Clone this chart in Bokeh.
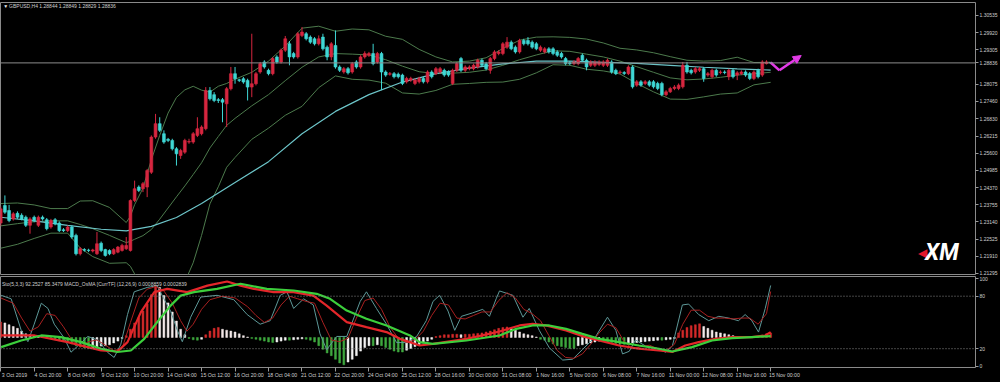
from bokeh.plotting import figure
from bokeh.layouts import column
from bokeh.models import (Range1d, FixedTicker, Label, Span, Arrow, NormalHead, LinearAxis,
                          ColumnDataSource, PrintfTickFormatter, GlobalInlineStyleSheet)
from bokeh.embed import file_html
from bokeh.resources import INLINE

# ---------------- data (GBPUSD H4, 3 Oct 2019 12:00 .. 15 Nov 2019 00:00) ----------------
open_ = [1.2310, 1.2373, 1.2355, 1.2325, 1.2345, 1.2338, 1.2331, 1.2302, 1.2331, 1.2302,
         1.2331, 1.2322, 1.2296, 1.2322, 1.2310, 1.2286, 1.2283, 1.2296, 1.2266, 1.2200,
         1.2215, 1.2213, 1.2210, 1.2200, 1.2238, 1.2215, 1.2212, 1.2200, 1.2206, 1.2212,
         1.2218, 1.2212, 1.2391, 1.2439, 1.2433, 1.2439, 1.2492, 1.2618, 1.2666, 1.2630,
         1.2610, 1.2606, 1.2576, 1.2552, 1.2564, 1.2600, 1.2600, 1.2624, 1.2630, 1.2648,
         1.2785, 1.2770, 1.2752, 1.2752, 1.2737, 1.2791, 1.2845, 1.2823, 1.2827, 1.2821,
         1.2797, 1.2809, 1.2851, 1.2887, 1.2857, 1.2845, 1.2905, 1.2887, 1.2929, 1.2952,
         1.2917, 1.2905, 1.2982, 1.2988, 1.2976, 1.2970, 1.2952, 1.2976, 1.2940, 1.2905,
         1.2946, 1.2869, 1.2851, 1.2863, 1.2851, 1.2887, 1.2869, 1.2905, 1.2911, 1.2917,
         1.2887, 1.2917, 1.2851, 1.2843, 1.2845, 1.2843, 1.2840, 1.2816, 1.2822, 1.2810,
         1.2816, 1.2828, 1.2816, 1.2851, 1.2845, 1.2851, 1.2857, 1.2851, 1.2810, 1.2857,
         1.2899, 1.2857, 1.2863, 1.2863, 1.2869, 1.2893, 1.2881, 1.2857, 1.2899, 1.2917,
         1.2917, 1.2940, 1.2958, 1.2940, 1.2923, 1.2964, 1.2964, 1.2958, 1.2952, 1.2929,
         1.2923, 1.2934, 1.2934, 1.2923, 1.2917, 1.2899, 1.2884, 1.2881, 1.2881, 1.2911,
         1.2893, 1.2875, 1.2875, 1.2878, 1.2875, 1.2875, 1.2887, 1.2857, 1.2849, 1.2849,
         1.2845, 1.2869, 1.2804, 1.2816, 1.2810, 1.2816, 1.2816, 1.2810, 1.2810, 1.2770,
         1.2780, 1.2792, 1.2792, 1.2798, 1.2875, 1.2857, 1.2851, 1.2857, 1.2863, 1.2840,
         1.2834, 1.2857, 1.2849, 1.2851, 1.2834, 1.2857, 1.2840, 1.2845, 1.2851, 1.2845,
         1.2828, 1.2857, 1.2840, 1.2881, 1.28844]
high_ = [1.2370, 1.2409, 1.2375, 1.2349, 1.2352, 1.2345, 1.2337, 1.2331, 1.2337, 1.2337,
         1.2337, 1.2328, 1.2325, 1.2328, 1.2316, 1.2292, 1.2302, 1.2302, 1.2272, 1.2224,
         1.2220, 1.2218, 1.2218, 1.2278, 1.2244, 1.2218, 1.2216, 1.2220, 1.2228, 1.2236,
         1.2260, 1.2395, 1.2462, 1.2445, 1.2457, 1.2504, 1.2624, 1.2701, 1.2689, 1.2642,
         1.2615, 1.2612, 1.2582, 1.2576, 1.2612, 1.2612, 1.2636, 1.2689, 1.2660, 1.2797,
         1.2797, 1.2779, 1.2758, 1.2758, 1.2797, 1.2869, 1.2869, 1.2827, 1.2833, 1.2827,
         1.2988, 1.2851, 1.2887, 1.2893, 1.2863, 1.2905, 1.2911, 1.2935, 1.2980, 1.2962,
         1.2923, 1.2994, 1.3012, 1.2994, 1.2982, 1.2976, 1.2982, 1.2988, 1.2946, 1.2958,
         1.3000, 1.2875, 1.2869, 1.2869, 1.2887, 1.2893, 1.2911, 1.2925, 1.2923, 1.2952,
         1.2923, 1.2923, 1.2857, 1.2851, 1.2851, 1.2849, 1.2845, 1.2834, 1.2834, 1.2828,
         1.2834, 1.2834, 1.2857, 1.2857, 1.2869, 1.2869, 1.2863, 1.2857, 1.2863, 1.2887,
         1.2905, 1.2875, 1.2875, 1.2881, 1.2899, 1.2899, 1.2887, 1.2905, 1.2929, 1.2929,
         1.2958, 1.2976, 1.2964, 1.2946, 1.2970, 1.2970, 1.2976, 1.2964, 1.2958, 1.2946,
         1.2940, 1.2940, 1.2940, 1.2929, 1.2923, 1.2905, 1.2890, 1.2893, 1.2905, 1.2917,
         1.2899, 1.2893, 1.2893, 1.2893, 1.2893, 1.2899, 1.2893, 1.2863, 1.2857, 1.2854,
         1.2875, 1.2875, 1.2822, 1.2822, 1.2822, 1.2822, 1.2822, 1.2816, 1.2816, 1.2786,
         1.2798, 1.2804, 1.2810, 1.2887, 1.2887, 1.2863, 1.2869, 1.2869, 1.2869, 1.2851,
         1.2863, 1.2863, 1.2857, 1.2857, 1.2863, 1.2863, 1.2854, 1.2857, 1.2857, 1.2851,
         1.2857, 1.2863, 1.2893, 1.2893, 1.28849]
low_ = [1.2300, 1.2343, 1.2313, 1.2319, 1.2325, 1.2320, 1.2296, 1.2272, 1.2313, 1.2296,
        1.2319, 1.2284, 1.2290, 1.2302, 1.2278, 1.2278, 1.2278, 1.2254, 1.2194, 1.2194,
        1.2208, 1.2206, 1.2205, 1.2196, 1.2206, 1.2190, 1.2195, 1.2196, 1.2202, 1.2208,
        1.2214, 1.2208, 1.2385, 1.2421, 1.2421, 1.2403, 1.2486, 1.2612, 1.2636, 1.2594,
        1.2600, 1.2570, 1.2516, 1.2540, 1.2558, 1.2594, 1.2594, 1.2618, 1.2624, 1.2642,
        1.2749, 1.2743, 1.2740, 1.2671, 1.2654, 1.2785, 1.2809, 1.2815, 1.2809, 1.2749,
        1.2761, 1.2803, 1.2845, 1.2863, 1.2839, 1.2839, 1.2881, 1.2881, 1.2923, 1.2875,
        1.2899, 1.2899, 1.2976, 1.2964, 1.2952, 1.2946, 1.2946, 1.2928, 1.2893, 1.2893,
        1.2863, 1.2851, 1.2845, 1.2842, 1.2845, 1.2863, 1.2863, 1.2899, 1.2905, 1.2875,
        1.2881, 1.2786, 1.2834, 1.2838, 1.2828, 1.2828, 1.2804, 1.2810, 1.2816, 1.2804,
        1.2810, 1.2810, 1.2810, 1.2828, 1.2840, 1.2845, 1.2834, 1.2834, 1.2804, 1.2851,
        1.2851, 1.2851, 1.2857, 1.2857, 1.2863, 1.2869, 1.2857, 1.2845, 1.2893, 1.2911,
        1.2911, 1.2934, 1.2929, 1.2917, 1.2917, 1.2946, 1.2946, 1.2934, 1.2929, 1.2923,
        1.2917, 1.2917, 1.2911, 1.2905, 1.2899, 1.2875, 1.2875, 1.2875, 1.2875, 1.2887,
        1.2857, 1.2869, 1.2869, 1.2872, 1.2869, 1.2869, 1.2845, 1.2840, 1.2843, 1.2840,
        1.2840, 1.2792, 1.2798, 1.2798, 1.2804, 1.2798, 1.2792, 1.2786, 1.2764, 1.2764,
        1.2776, 1.2786, 1.2786, 1.2792, 1.2845, 1.2842, 1.2845, 1.2851, 1.2816, 1.2834,
        1.2828, 1.2834, 1.2843, 1.2843, 1.2822, 1.2828, 1.2822, 1.2840, 1.2834, 1.2822,
        1.2822, 1.2828, 1.2834, 1.2878, 1.28829]
close_ = [1.2361, 1.2349, 1.2319, 1.2343, 1.2331, 1.2325, 1.2302, 1.2325, 1.2319, 1.2331,
          1.2325, 1.2290, 1.2319, 1.2307, 1.2283, 1.2283, 1.2296, 1.2260, 1.2200, 1.2218,
          1.2213, 1.2212, 1.2214, 1.2236, 1.2212, 1.2194, 1.2200, 1.2215, 1.2224, 1.2230,
          1.2230, 1.2391, 1.2433, 1.2427, 1.2451, 1.2498, 1.2618, 1.2666, 1.2642, 1.2600,
          1.2606, 1.2576, 1.2558, 1.2570, 1.2606, 1.2602, 1.2630, 1.2648, 1.2654, 1.2785,
          1.2755, 1.2749, 1.2749, 1.2743, 1.2791, 1.2845, 1.2827, 1.2821, 1.2815, 1.2797,
          1.2809, 1.2845, 1.2881, 1.2869, 1.2845, 1.2899, 1.2887, 1.2929, 1.2970, 1.2905,
          1.2905, 1.2988, 1.2994, 1.2970, 1.2958, 1.2952, 1.2970, 1.2934, 1.2905, 1.2952,
          1.2869, 1.2857, 1.2863, 1.2848, 1.2881, 1.2869, 1.2905, 1.2917, 1.2917, 1.2881,
          1.2917, 1.2851, 1.2840, 1.2845, 1.2834, 1.2834, 1.2810, 1.2828, 1.2828, 1.2822,
          1.2828, 1.2816, 1.2851, 1.2834, 1.2863, 1.2863, 1.2840, 1.2840, 1.2857, 1.2881,
          1.2857, 1.2869, 1.2869, 1.2875, 1.2893, 1.2875, 1.2863, 1.2899, 1.2923, 1.2923,
          1.2952, 1.2958, 1.2934, 1.2923, 1.2964, 1.2952, 1.2952, 1.2940, 1.2934, 1.2940,
          1.2934, 1.2923, 1.2917, 1.2911, 1.2905, 1.2881, 1.2881, 1.2887, 1.2899, 1.2893,
          1.2869, 1.2887, 1.2887, 1.2887, 1.2887, 1.2893, 1.2851, 1.2845, 1.2851, 1.2846,
          1.2869, 1.2798, 1.2816, 1.2804, 1.2816, 1.2804, 1.2798, 1.2792, 1.2770, 1.2780,
          1.2792, 1.2797, 1.2804, 1.2875, 1.2851, 1.2848, 1.2863, 1.2863, 1.2828, 1.2845,
          1.2857, 1.2840, 1.2851, 1.2849, 1.2857, 1.2834, 1.2848, 1.2851, 1.2840, 1.2828,
          1.2851, 1.2834, 1.2887, 1.2887, 1.28836]

# Bollinger bands (20, 2): bar index -> price
bb_x = [0, 4, 8, 12, 16, 19, 22, 26, 30, 31, 32, 34, 36, 38, 40, 42, 44, 46, 48, 50,
        52, 54, 56, 60, 64, 68, 72, 76, 80, 84, 88, 92, 96, 100, 104, 108, 112, 116, 120,
        124, 128, 132, 136, 140, 144, 148, 152, 156, 160, 164, 168, 172, 176, 180, 184]
bb_upper = [1.2380, 1.2382, 1.2375, 1.2362, 1.2362, 1.2389, 1.2390, 1.2366, 1.2312, 1.2335,
            1.2376, 1.2435, 1.2537, 1.2624, 1.2704, 1.2760, 1.2787, 1.2800, 1.2786, 1.2779,
            1.2800, 1.2810, 1.2825, 1.2850, 1.2890, 1.2944, 1.3008, 1.3015, 1.2997, 1.3005,
            1.3002, 1.2979, 1.2968, 1.2932, 1.2905, 1.2887, 1.2890, 1.2902, 1.2935, 1.2965,
            1.2976, 1.2977, 1.2975, 1.2969, 1.2955, 1.2936, 1.2930, 1.2920, 1.2906, 1.2893,
            1.2890, 1.2892, 1.2904, 1.2885, 1.2886]
bb_mid = [1.2300, 1.2308, 1.2315, 1.2318, 1.2318, 1.2305, 1.2290, 1.2266, 1.2240, 1.2245,
          1.2252, 1.2265, 1.2287, 1.2324, 1.2364, 1.2404, 1.2443, 1.2484, 1.2526, 1.2579,
          1.2620, 1.2660, 1.2685, 1.2730, 1.2770, 1.2820, 1.2868, 1.2905, 1.2917, 1.2915,
          1.2912, 1.2895, 1.2872, 1.2852, 1.2845, 1.2847, 1.2850, 1.2858, 1.2875, 1.2895,
          1.2912, 1.2927, 1.2925, 1.2915, 1.2905, 1.2890, 1.2870, 1.2850, 1.2830, 1.2823,
          1.2826, 1.2832, 1.2840, 1.2845, 1.2850]
bb_lower = [1.2220, 1.2234, 1.2255, 1.2274, 1.2274, 1.2221, 1.2190, 1.2166, 1.2168, 1.2155,
            1.2128, 1.2095, 1.2037, 1.2024, 1.2024, 1.2048, 1.2099, 1.2168, 1.2266, 1.2379,
            1.2440, 1.2510, 1.2545, 1.2610, 1.2650, 1.2696, 1.2728, 1.2795, 1.2837, 1.2825,
            1.2822, 1.2811, 1.2776, 1.2772, 1.2785, 1.2807, 1.2810, 1.2814, 1.2815, 1.2825,
            1.2848, 1.2877, 1.2875, 1.2861, 1.2855, 1.2844, 1.2810, 1.2780, 1.2754, 1.2753,
            1.2762, 1.2772, 1.2776, 1.2805, 1.2814]

# slow moving average (light cyan)
ma_x = [0, 8, 16, 24, 30, 36, 42, 48, 56, 64, 72, 80, 88, 96, 104, 112, 120, 128, 136,
        144, 152, 160, 168, 176, 184]
ma_v = [1.2331, 1.2318, 1.2302, 1.2288, 1.2282, 1.2298, 1.2330, 1.2380, 1.2455, 1.2530,
        1.2630, 1.2710, 1.2770, 1.2815, 1.2845, 1.2865, 1.2880, 1.2890, 1.2890, 1.2886,
        1.2882, 1.2875, 1.2868, 1.2862, 1.2858]

# Stochastic (5,3,3)
k_x = [0.1, 2.5, 4.9, 6.5, 8, 9.7, 11.3, 12.8, 15.2, 16.8, 18.4, 20.8, 23.2, 25.5, 27.1,
       28.7, 30.3, 31.9, 35, 37.4, 39, 40.6, 42.2, 43.4, 45.4, 47.8, 51.7, 55.7, 58.9, 62,
       64.4, 66.8, 68.4, 70, 72.4, 74.7, 76.3, 77.9, 80.3, 82.7, 85.9, 87.4, 89.8, 92.2,
       94.6, 97, 99.4, 101.7, 103.3, 104.9, 106.9, 108.5, 110.1, 112.8, 115.2, 116.8,
       118.4, 119.2, 122.4, 124.8, 126.3, 128.7, 131.1, 134.3, 136.7, 139, 142.2, 145,
       147, 148.6, 150.2, 151.7, 154.1, 156.5, 158.9, 160.5, 162.9, 164.4, 166.8, 169.2,
       171.6, 174, 176.3, 177.9, 179.5, 181.1, 182.7, 184]
k_v = [81, 77, 41, 28, 48, 72, 66, 48, 32, 16, 23, 34, 30, 16, 10, 25, 59, 85, 90, 92, 77,
       63, 41, 28, 56, 79, 81, 76, 59, 48, 52, 81, 85, 66, 77, 70, 37, 19, 34, 34, 74, 85,
       66, 48, 27, 27, 34, 52, 74, 81, 63, 41, 57, 61, 65, 57, 77, 86, 81, 56, 66, 41, 21,
       7, 8, 19, 34, 56, 41, 14, 17, 30, 23, 21, 16, 23, 70, 71, 59, 52, 57, 55, 52, 59,
       52, 39, 66, 92.25]
d_x = [0, 3, 5, 7, 9, 11, 13, 15, 17, 19, 21, 23, 25, 27, 29, 31, 33, 35, 37, 39, 41, 43,
       44.5, 46, 48, 50, 53, 56, 59, 61, 63, 65, 67, 69, 71, 73, 75, 77, 79, 81, 83, 85,
       87, 89, 91, 93, 95, 97, 99, 101, 103, 105, 107, 109, 111, 113, 115, 117, 119, 121,
       123, 125, 127, 129, 131, 133, 135, 137, 139, 141, 143, 145, 147, 149, 151, 153, 155,
       157, 159, 161, 163, 165, 167, 169, 171, 173, 175, 177, 179, 181, 183, 184]
d_v = [78, 72, 55, 40, 45, 60, 58, 45, 30, 22, 28, 30, 24, 18, 20, 50, 78, 88, 91, 86, 72,
       52, 40, 48, 65, 76, 80, 78, 68, 58, 50, 55, 70, 80, 77, 74, 72, 50, 30, 28, 32, 55,
       75, 78, 65, 45, 32, 27, 30, 40, 58, 72, 70, 55, 54, 58, 62, 62, 75, 84, 78, 65, 60,
       52, 35, 18, 10, 9, 14, 25, 38, 48, 44, 28, 20, 22, 24, 20, 18, 25, 48, 64, 64, 57,
       55, 55, 54, 55, 55, 48, 60, 85.35]

# MACD_OsMA (12,26,9), values in units of 0.0001
osma = [17, 16, 14, 12, 10, 7, 4, 3, 2, 1.5,
        0.5, -0.8, -1.5, -2.5, -3.5, -4.5, -5.5, -7, -9, -10.5,
        -11.5, -12, -11.5, -10.5, -9.5, -9, -8, -6, -4, -1,
        2, 9, 16, 22, 29, 37, 47, 57, 55, 46,
        38, 28, 18, 9, 3, -1, -2.5, -3, -2, 3,
        7, 10, 11, 9, 8, 7, 6, 4, 2, 0.5,
        -1, -2, -3, -4, -5, -5.5, -5, -4, -3, -3,
        -2.5, -2, -1.5, -2, -3, -5, -9, -13, -17, -20,
        -24, -28, -30, -27, -24, -20, -15, -11, -9, -9,
        -8, -9, -11, -13, -15, -16, -16, -14, -12, -10,
        -8, -6, -4, -2, 1, 2, 3, 3, 3.5, 3.5,
        3, 3.5, 3.5, 4, 4.5, 5, 6, 7, 8.5, 10,
        11, 11.5, 10, 8, 6, 4, 3, 2, 0.5, -2,
        -3, -5, -7, -9, -10, -11, -12, -12, -9, -8,
        -7, -6, -5, -4, -4.5, -5, -5.5, -6.5, -7, -7.5,
        -7, -6, -5.5, -5, -4.5, -4, -3.5, -3, -3, -2.5,
        -2, -1, 5, 8, 11, 13, 14, 15, 12, 10,
        8, 6, 5, 4, 3, 2, 1, 0.5, 0.3, 0.3,
        0.5, 1, 2.5, 4, 5]
macd_x = [0.1, 8.1, 16, 24, 27.9, 30.3, 33.5, 36.7, 39.8, 44.6, 49.4, 54.1, 57.3, 60.5,
          65.2, 70, 74.7, 77.9, 82.7, 87.4, 92.2, 95.4, 97.8, 100.1, 103.3, 111.3, 119.2,
          124, 127.1, 130.3, 135.1, 139.8, 143, 147.8, 152.5, 157.3, 160.5, 163.6, 166.8,
          170.8, 174.8, 179.5, 182.7, 184]
macd_v = [2.2, 2.2, -5.1, -14.3, -15.4, -5.1, 27.8, 49.8, 53.4, 49.8, 57, 61.5, 57, 53.4,
          49.8, 49.8, 46, 35, 16.8, 11.3, 5.9, -1.5, -5.1, -8.8, -7, -1.5, 6.6,
          13.2, 15, 13.2, 7.7, 0.4, -3.3, -8.8, -12.4, -14.3, -16, -8.8, -5.1,
          -1.5, 0.4, 0.4, 2.2, 5.9]
signal_x = [0.1, 4.9, 9.7, 14.4, 19.2, 24, 27.9, 31.1, 34.3, 37.4, 40.6, 43, 46.2, 51.7,
            57.3, 63.6, 70, 75.5, 78.7, 82.7, 87.4, 92.2, 97.8, 100.1, 103.3, 111.3, 119.2,
            123.2, 127.1, 131.1, 135.1, 139, 143, 147.8, 152.5, 157.3, 160.5, 165.2, 170,
            174.8, 179.5, 184]
signal_v = [-10.6, -3.3, 2.2, 0.4, -5.1, -12.4, -16, -14.3, -1.5, 16.8, 35, 46, 49.8, 53.4,
            59, 53.4, 51.6, 48, 42.5, 29.6, 20.5, 13.2, 2.2, -5.1, -7, -3.3, 2.2,
            9.5, 13.2, 13.2, 9.5, 4, -1.5, -5.1, -8.8, -12.4, -15.4, -10.6, -3.3,
            -0.7, 0.4, 1.5]

# right-axis price labels (1.28836 = current-price marker, it covers 1.28690)
price_ticks = [1.30535, 1.29920, 1.29305, 1.28836, 1.28075, 1.27460, 1.26830, 1.26215,
               1.25600, 1.24985, 1.24370, 1.23755, 1.23140, 1.22525, 1.21910, 1.21295]
time_labels = ["3 Oct 2019", "4 Oct 20:00", "8 Oct 04:00", "9 Oct 12:00", "10 Oct 20:00",
               "14 Oct 04:00", "15 Oct 12:00", "16 Oct 20:00", "18 Oct 04:00", "21 Oct 12:00",
               "22 Oct 20:00", "24 Oct 04:00", "25 Oct 12:00", "28 Oct 16:00", "30 Oct 00:00",
               "31 Oct 08:00", "1 Nov 16:00", "5 Nov 00:00", "6 Nov 08:00", "7 Nov 16:00",
               "11 Nov 00:00", "12 Nov 08:00", "13 Nov 16:00", "15 Nov 00:00"]
bars_per_label = 8
symbol_text = "GBPUSD,H4  1.28844 1.28849 1.28829 1.28836"
sub_text = "Sto(5,3,3) 92.2527 85.3479  MACD_OsMA [CurrTF] (12,26,9) 0.0008859 0.0002839"
stoch_levels = [20, 80]

# ---------------- styling ----------------
BG = "#000000"
FRAME = "#8a8a8a"
UP = "#d6263f"
DN = "#3fd7d5"
TXT = "#cfcfcf"
FONT = "Liberation Sans"
MAG = "#e23be6"
XR = Range1d(-0.05, 232.95)
LABEL_SHIFT = 3.3   # time labels start just right of their tick mark (MT4 style)

N = len(close_)
idx = list(range(N))
src = ColumnDataSource(dict(
    x=idx,
    top=[max(o, c) for o, c in zip(open_, close_)],
    bottom=[min(o, c) for o, c in zip(open_, close_)],
    high=high_, low=low_,
    color=[UP if c >= o else DN for o, c in zip(open_, close_)],
))

p1 = figure(width=1000, height=275, x_range=XR, y_range=Range1d(1.21259, 1.30999),
            x_axis_location=None, y_axis_location="right", toolbar_location=None,
            output_backend="svg", background_fill_color=BG, border_fill_color=BG,
            outline_line_color=FRAME, min_border_left=0, min_border_right=22,
            min_border_top=2, min_border_bottom=1)
p1.grid.visible = False
ax = p1.yaxis[0]
ax.ticker = FixedTicker(ticks=price_ticks)
ax.formatter = PrintfTickFormatter(format="%.5f")
ax.axis_line_color = None
ax.major_tick_line_color = "#9a9a9a"
ax.major_tick_out = 3
ax.major_tick_in = 0
ax.minor_tick_line_color = None
ax.major_label_standoff = 1
ax.major_label_text_font_size = "5px"
ax.major_label_text_font = FONT
ax.major_label_text_color = TXT

p1.line(bb_x, bb_upper, line_color="#4c7a4c", line_width=1)
p1.line(bb_x, bb_mid, line_color="#4c7a4c", line_width=1)
p1.line(bb_x, bb_lower, line_color="#4c7a4c", line_width=1)
p1.line(ma_x, ma_v, line_color="#6cc4c8", line_width=1.2)
p1.add_layout(Span(location=close_[-1], dimension="width", line_color="#8c8c8c", line_width=1))
p1.segment(x0="x", y0="low", x1="x", y1="high", line_color="color", line_width=1, source=src)
p1.vbar(x="x", width=0.68, top="top", bottom="bottom", fill_color="color",
        line_color="color", line_width=0.6, source=src)

# trend arrow
arr_x = [184.0, 186.1, 191.3]
arr_y = [1.2885, 1.2857, 1.2910]
p1.line(arr_x[:2], arr_y[:2], line_color=MAG, line_width=2.5)
p1.add_layout(Arrow(end=NormalHead(size=8, fill_color=MAG, line_color=MAG),
                    x_start=arr_x[1], y_start=arr_y[1], x_end=arr_x[2], y_end=arr_y[2],
                    line_color=MAG, line_width=2.5))

p1.add_layout(Label(x=0.6, y=1.30857, text="\u25BC", text_font_size="5px", text_font=FONT,
                    text_color="#e8e8e8", text_baseline="middle"))
p1.add_layout(Label(x=2.0, y=1.30857, text=symbol_text, text_font_size="5px", text_font=FONT,
                    text_color=TXT, text_baseline="middle"))
p1.add_layout(Label(x=219.3, y=1.2203, text="\u25C0", text_font_size="12px",
                    text_color="#e0162b", text_baseline="middle"))
p1.add_layout(Label(x=220.9, y=1.2203, text="XM", text_font_size="23px", text_font="Roboto",
                    text_font_style="bold italic", text_color="#ffffff", text_baseline="middle"))

# ---------------- lower panel ----------------
p2 = figure(width=1000, height=107, x_range=XR, y_range=Range1d(-1.5, 102.5),
            y_axis_location="right", toolbar_location=None, output_backend="svg",
            background_fill_color=BG, border_fill_color=BG, outline_line_color=FRAME,
            min_border_left=0, min_border_right=22, min_border_top=1, min_border_bottom=15)
p2.extra_y_ranges = {"osma": Range1d(-33, 67)}
p2.extra_x_ranges = {"labels": Range1d(XR.start - LABEL_SHIFT, XR.end - LABEL_SHIFT)}
p2.grid.visible = False
ay = p2.yaxis[0]
ay.ticker = FixedTicker(ticks=[0, 20, 80, 100])
ay.axis_line_color = None
ay.major_tick_line_color = "#9a9a9a"
ay.major_tick_out = 3
ay.major_tick_in = 0
ay.minor_tick_line_color = None
ay.major_label_standoff = 1
ay.major_label_text_font_size = "5px"
ay.major_label_text_font = FONT
ay.major_label_text_color = TXT

tick_pos = [i * bars_per_label for i in range(len(time_labels))]
# tick marks at the bars
axx = p2.xaxis[0]
axx.ticker = FixedTicker(ticks=tick_pos)
axx.major_label_overrides = {t: "" for t in tick_pos}
axx.major_label_text_font_size = "1px"
axx.major_label_standoff = 0
axx.axis_line_color = None
axx.major_tick_line_color = "#9a9a9a"
axx.major_tick_out = 4
axx.major_tick_in = 0
axx.minor_tick_line_color = None
# time labels, written to the right of each tick mark
axl = LinearAxis(x_range_name="labels", ticker=FixedTicker(ticks=tick_pos),
                 major_label_overrides={t: s for t, s in zip(tick_pos, time_labels)},
                 axis_line_color=None, major_tick_line_color=None, minor_tick_line_color=None,
                 major_tick_out=0, major_tick_in=0, major_label_standoff=0,
                 major_label_text_font_size="5.2px", major_label_text_font=FONT,
                 major_label_text_color=TXT)
p2.add_layout(axl, "below")

for lv in stoch_levels:
    p2.add_layout(Span(location=lv, dimension="width", line_color="#8a8a8a",
                       line_width=1, line_dash="1 2"))

hist_colors = []
for i, v in enumerate(osma):
    prev = osma[i - 1] if i > 0 else v
    if v >= 0:
        hist_colors.append("#d42a2a" if v >= prev else "#f4eaea")
    else:
        hist_colors.append("#3fa83f" if v <= prev else "#f4f4f4")
p2.vbar(x=idx, width=0.45, top=osma, bottom=0, fill_color=hist_colors,
        line_color=hist_colors, line_width=0.5, y_range_name="osma")
p2.line(k_x, k_v, line_color="#5d9898", line_width=1)
p2.line(d_x, d_v, line_color="#a82020", line_width=1)
p2.line(macd_x, macd_v, line_color="#e4262a", line_width=2.2, y_range_name="osma")
p2.line(signal_x, signal_v, line_color="#3ccf3c", line_width=2.2, y_range_name="osma")

p2.add_layout(Label(x=0.3, y=94.5, text=sub_text, text_font_size="5px", text_font=FONT,
                    text_color=TXT, text_baseline="middle"))

layout = column(p1, p2, stylesheets=[GlobalInlineStyleSheet(css="html, body { background-color: #000000; }")])
open("out.html", "w").write(file_html(layout, INLINE))
